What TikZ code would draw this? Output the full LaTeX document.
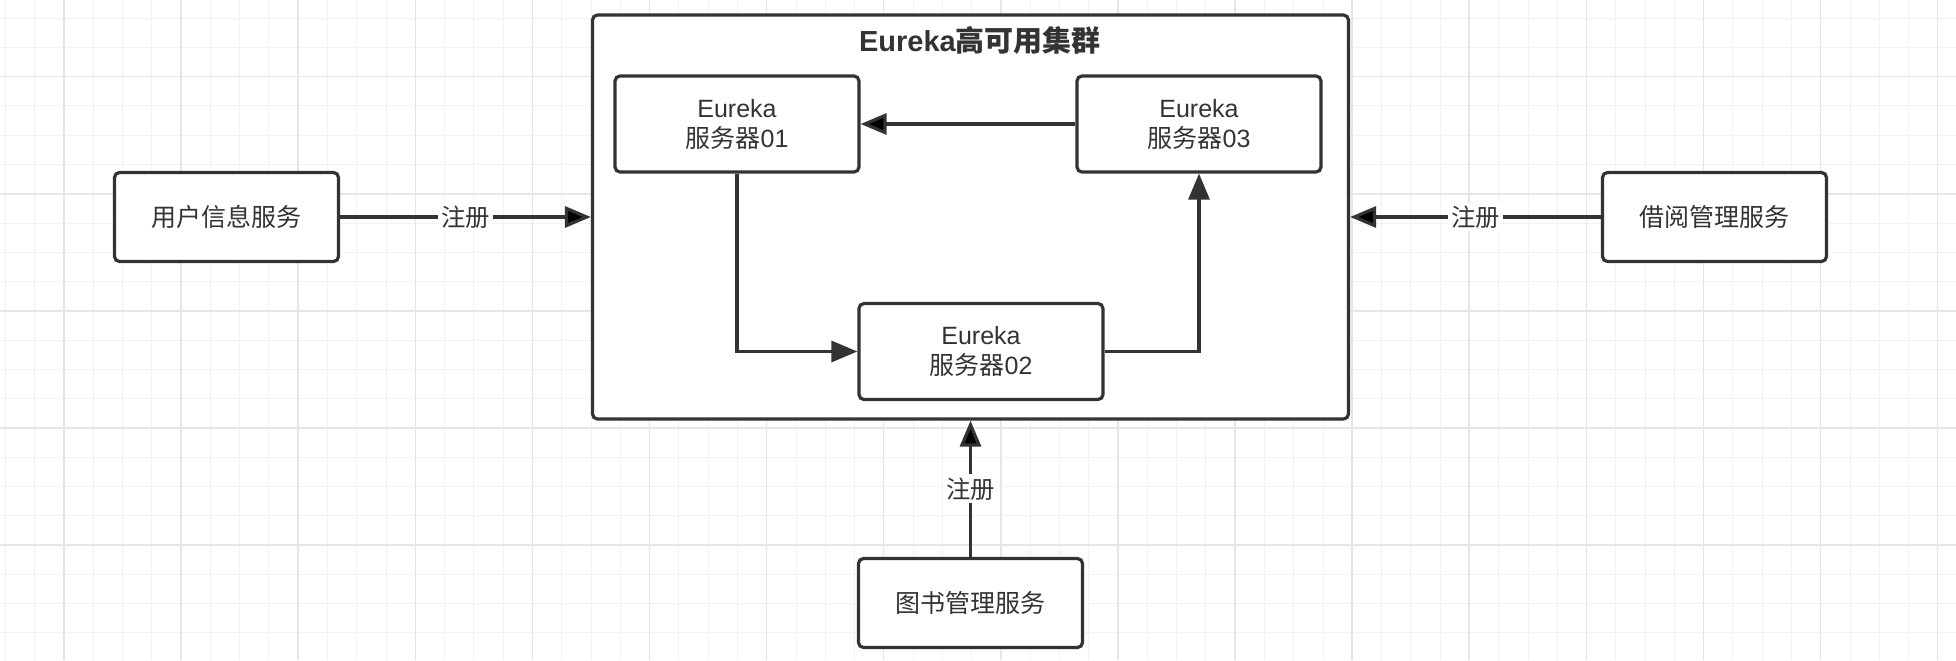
\documentclass[tikz,border=0pt]{standalone}
\usepackage{fontspec}
\setmainfont{Liberation Sans}
\newfontfamily\cjk{Noto Sans CJK SC}
\usepackage{xcolor}
\usetikzlibrary{positioning, arrows.meta}
\definecolor{ink}{HTML}{333333}
\definecolor{gridminor}{HTML}{F1F1F1}
\definecolor{gridmajor}{HTML}{E6E6E6}

\begin{document}
\begin{tikzpicture}[x=0.5pt,y=-0.5pt,on grid,
    box/.style={draw=ink,line width=1.6pt,rounded corners=2.5pt,fill=white,text=ink,
      align=center,inner sep=0pt,font=\fontsize{12.5}{15}\selectfont},
    svc/.style={box,minimum width=112pt,minimum height=44.5pt},
    srv/.style={box,minimum width=122pt,minimum height=48pt},
    lbl/.style={fill=white,text=ink,inner sep=1.5pt,font=\cjk\fontsize{12.2}{14}\selectfont},
    link/.style={draw=ink,line width=1.6pt},
    >={Triangle[length=13pt,width=10.5pt]}]
   \useasboundingbox (0,0) rectangle (1956,660);
   \fill[white] (0,0) rectangle (1956,660);
   % background grid
   \foreach \i in {0,...,66} \draw[gridminor,line width=0.5pt] ({5.44+29.28*\i},0) -- ++(0,660);
   \foreach \i in {0,...,22} \draw[gridminor,line width=0.5pt] (0,{18.1+29.28*\i}) -- ++(1956,0);
   \foreach \i in {0,...,16} \draw[gridmajor,line width=0.75pt] ({64+117.1*\i},0) -- ++(0,660);
   \foreach \i in {0,...,4} \draw[gridmajor,line width=0.75pt] (0,{76.7+117.1*\i}) -- ++(1956,0);

   \node[box,minimum width=378pt,minimum height=202pt] (C) at (970.5,217) {};
   \node[text=ink,font=\bfseries\fontsize{14.5}{17}\selectfont] (title) at (980,40) {Eureka{\cjk 高可用集群}};
   \node[svc] (U) [left=372pt of C] {\cjk 用户信息服务};
   \node[svc] (L) [right=372pt of C] {\cjk 借阅管理服务};
   \node[svc] (T) [below=193pt of C] {\cjk 图书管理服务};

   \node[srv] (S1) at (737,124) {Eureka\\{\cjk 服务器}01};
   \node[srv] (S3) [right=231pt of S1] {Eureka\\{\cjk 服务器}03};
   \node[srv] (S2) at (981,351.5) {Eureka\\{\cjk 服务器}02};

   \path[link,->]
   (U) edge node[lbl] {注册} (C)
   (L) edge node[lbl] {注册} (C)
   (T) edge node[lbl] {注册} (C)
   (S3) edge (S1);
   \draw[link,->] (S1) |- (S2);
   \draw[link,->] (S2) -| (S3);
\end{tikzpicture}
\end{document}
